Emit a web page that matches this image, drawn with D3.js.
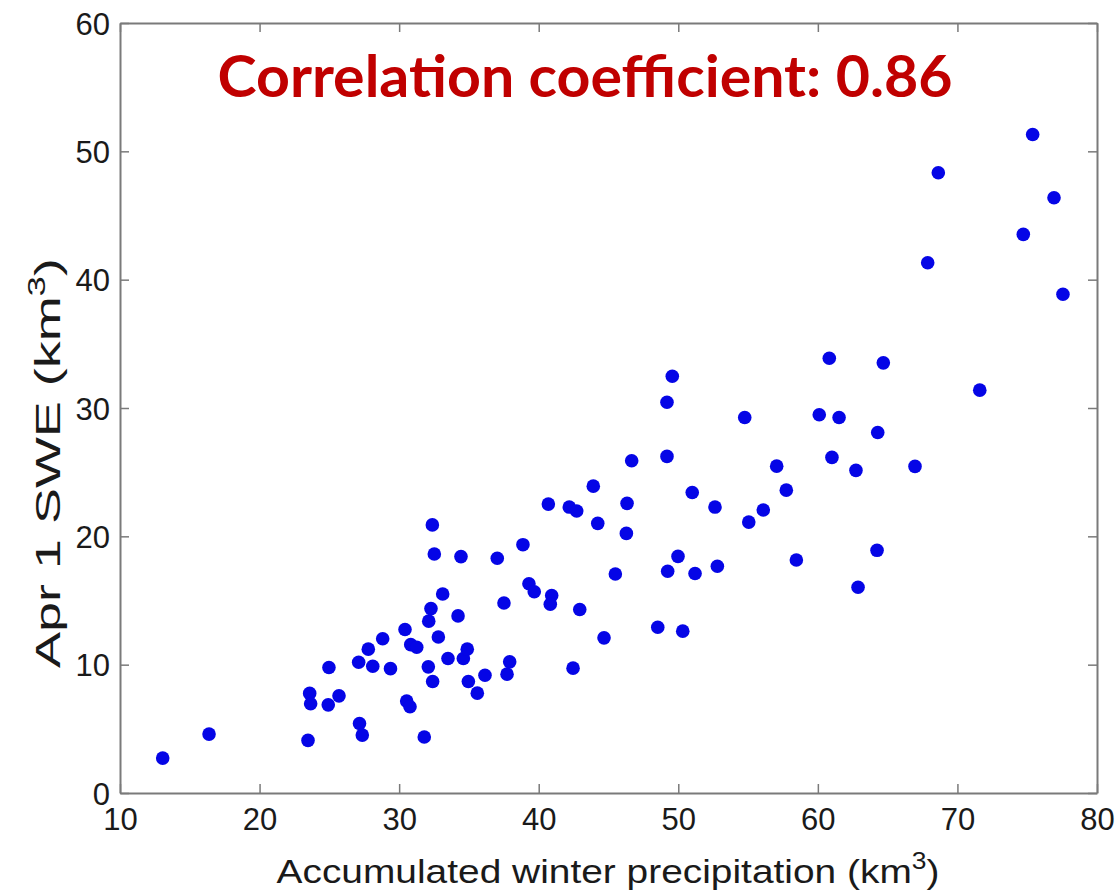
<!DOCTYPE html>
<html>
<head>
<meta charset="utf-8">
<script src="https://cdn.jsdelivr.net/npm/d3@7"></script>
<style>
  html, body { margin: 0; padding: 0; background: #ffffff; }
  svg { display: block; }
  .tick text { font-family: "Liberation Sans", Arial, sans-serif; }
</style>
</head>
<body>
<div id="chart"></div>
<script>
// Accumulated winter precipitation (km^3) for each year
const precip = [
  13.06, 16.38, 23.47, 23.59, 23.66, 24.97, 24.92, 25.69, 27.10, 27.16,
  27.36, 27.79, 28.11, 28.82, 29.38, 30.42, 30.54, 30.78, 30.83, 31.26,
  31.80, 32.09, 32.12, 32.28, 32.38, 32.52, 32.40, 32.81, 33.12, 33.50,
  34.22, 34.43, 34.60, 34.88, 34.96, 35.60, 36.15, 37.03, 37.51, 37.73,
  37.92, 38.87, 39.30, 39.68, 40.69, 40.93, 40.83, 42.19, 42.72, 42.46,
  42.94, 43.91, 44.23, 44.68, 45.49, 46.33, 46.28, 46.66, 48.53, 49.19,
  49.19, 49.57, 49.24, 49.98, 50.32, 51.00, 51.20, 52.63, 52.80, 54.76,
  55.05, 56.09, 57.05, 57.74, 58.46, 60.10, 60.82, 61.01, 61.52, 62.73,
  62.88, 64.29, 64.24, 64.69, 66.96, 67.87, 68.63, 71.60, 74.72, 75.39,
  76.92, 77.56
];

// April 1 snow water equivalent (km^3), same order as precip
const swe = [
  2.72, 4.59, 4.10, 7.76, 6.95, 9.78, 6.87, 7.57, 10.19, 5.42,
  4.51, 11.21, 9.88, 12.02, 9.69, 12.74, 7.16, 6.72, 11.56, 11.36,
  4.36, 9.83, 13.39, 14.37, 20.89, 18.62, 8.69, 12.16, 15.51, 10.48,
  13.80, 18.42, 10.48, 11.21, 8.69, 7.78, 9.18, 18.29, 14.81, 9.26,
  10.22, 19.35, 16.30, 15.68, 22.51, 15.39, 14.71, 22.28, 21.97, 9.73,
  14.30, 23.91, 21.01, 12.09, 17.07, 22.57, 20.23, 25.89, 12.92, 26.23,
  30.45, 32.47, 17.28, 18.44, 12.61, 23.42, 17.10, 22.28, 17.67, 29.26,
  21.11, 22.05, 25.47, 23.60, 18.16, 29.47, 33.88, 26.15, 29.26, 25.14,
  16.03, 28.09, 18.91, 33.52, 25.45, 41.32, 48.33, 31.39, 43.53, 51.31,
  46.38, 38.86
];

const xTicks = [10, 20, 30, 40, 50, 60, 70, 80];
const yTicks = [0, 10, 20, 30, 40, 50, 60];
const correlationText = "Correlation coefficient: 0.86";

const W = 1120, H = 896;
const margin = { left: 120, right: 23, top: 23, bottom: 103 };
const iw = W - margin.left - margin.right;
const ih = H - margin.top - margin.bottom;

const svg = d3.select("#chart").append("svg")
  .attr("width", W).attr("height", H);

const x = d3.scaleLinear().domain([10, 80]).range([0, iw]);
const y = d3.scaleLinear().domain([0, 60]).range([ih, 0]);

const g = svg.append("g").attr("transform", `translate(${margin.left},${margin.top})`);

const axisColor = "#7a7a7a";
const tickFont = 31;

function styleAxis(sel, showLabels) {
  sel.select(".domain").attr("stroke", axisColor).attr("stroke-width", 2);
  sel.selectAll(".tick line").attr("stroke", axisColor).attr("stroke-width", 1.5);
  sel.selectAll(".tick text")
    .attr("fill", "#1a1a1a")
    .style("font-size", tickFont + "px");
  if (!showLabels) sel.selectAll(".tick text").remove();
}

// Bottom axis with inward ticks
const xAxis = g.append("g").attr("transform", `translate(0,${ih})`)
  .call(d3.axisBottom(x).tickValues(xTicks).tickSizeInner(-9).tickSizeOuter(0).tickPadding(15));
styleAxis(xAxis, true);

// Left axis with inward ticks
const yAxis = g.append("g")
  .call(d3.axisLeft(y).tickValues(yTicks).tickSizeInner(-9).tickSizeOuter(0).tickPadding(10));
styleAxis(yAxis, true);
yAxis.selectAll(".tick text").attr("dy", "0.36em");

// Top and right frame lines with matching ticks
const xTop = g.append("g")
  .call(d3.axisTop(x).tickValues(xTicks).tickSizeInner(-9).tickSizeOuter(0));
styleAxis(xTop, false);
const yRight = g.append("g").attr("transform", `translate(${iw},0)`)
  .call(d3.axisRight(y).tickValues(yTicks).tickSizeInner(-9).tickSizeOuter(0));
styleAxis(yRight, false);

// Scatter points
g.append("g").selectAll("circle")
  .data(precip.map((p, i) => [p, swe[i]]))
  .join("circle")
  .attr("cx", d => x(d[0]))
  .attr("cy", d => y(d[1]))
  .attr("r", 6.8)
  .attr("fill", "#0505e6");

// Correlation annotation
svg.append("text")
  .attr("x", 585).attr("y", 97)
  .attr("text-anchor", "middle")
  .attr("fill", "#c00000")
  .style("font-family", "Lato, 'Open Sans', sans-serif")
  .style("font-weight", "bold")
  .style("font-size", "57px")
  .attr("textLength", 735)
  .attr("lengthAdjust", "spacingAndGlyphs")
  .text(correlationText);

// Axis titles with a superscript unit; each is stretched along its length to a set span
const labelFont = "'Liberation Sans', Arial, sans-serif";
function axisTitle(parent, size, main, cx, cy, rotate, span) {
  const t = parent.append("text")
    .attr("text-anchor", "middle")
    .attr("fill", "#1a1a1a")
    .style("font-family", labelFont)
    .style("font-size", size + "px");
  t.append("tspan").text(main);
  t.append("tspan").attr("dy", -size * 0.42).style("font-size", (size * 0.68) + "px").text("3");
  t.append("tspan").attr("dy", size * 0.42).text(")");
  const len = t.node().getComputedTextLength();
  t.attr("transform", `translate(${cx},${cy}) rotate(${rotate}) scale(${span / len},1)`);
  return t;
}
axisTitle(svg, 34, "Accumulated winter precipitation (km", 608, 883, 0, 663);
axisTitle(svg, 36, "Apr 1 SWE (km", 60, 463, -90, 410);
</script>
</body>
</html>
